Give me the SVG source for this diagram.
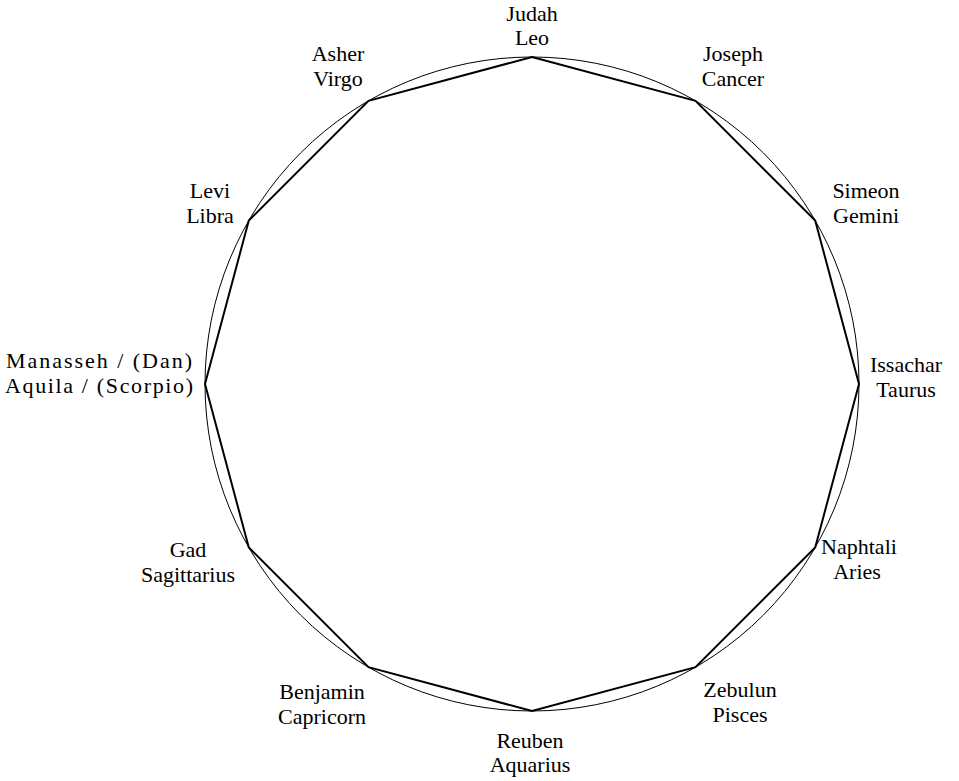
<svg xmlns="http://www.w3.org/2000/svg" width="959" height="781" viewBox="0 0 959 781">
<style>
text{font-family:"Liberation Serif",serif;font-size:22px;fill:#000;text-anchor:middle}
</style>
<rect width="959" height="781" fill="#fff"/>
<g id="connectors">
<circle cx="532" cy="384" r="327" fill="none" stroke="#000" stroke-width="1"/>
<polygon points="532,57 695.5,100.8 815.2,220.5 859,384 815.2,547.5 695.5,667.2 532,711 368.5,667.2 248.8,547.5 205,384 248.8,220.5 368.5,100.8" fill="none" stroke="#000" stroke-width="2" stroke-linejoin="miter"/>
</g>
<g id="judah"><text x="532" y="21">Judah</text><text x="532" y="45">Leo</text></g>
<g id="joseph"><text x="733" y="61">Joseph</text><text x="733" y="86">Cancer</text></g>
<g id="simeon"><text x="866" y="198">Simeon</text><text x="866" y="223">Gemini</text></g>
<g id="issachar"><text x="906" y="372">Issachar</text><text x="906" y="397">Taurus</text></g>
<g id="naphtali"><text x="859" y="554">Naphtali</text><text x="857" y="579">Aries</text></g>
<g id="zebulun"><text x="740" y="697">Zebulun</text><text x="740" y="722">Pisces</text></g>
<g id="reuben"><text x="530" y="748">Reuben</text><text x="530" y="772">Aquarius</text></g>
<g id="benjamin"><text x="322" y="699">Benjamin</text><text x="322" y="724">Capricorn</text></g>
<g id="gad"><text x="188" y="557">Gad</text><text x="188" y="582">Sagittarius</text></g>
<g id="manasseh"><text x="99" y="368" textLength="186" lengthAdjust="spacing">Manasseh / (Dan)</text><text x="99" y="393" textLength="188" lengthAdjust="spacing">Aquila / (Scorpio)</text></g>
<g id="levi"><text x="210" y="198">Levi</text><text x="210" y="223">Libra</text></g>
<g id="asher"><text x="338" y="61">Asher</text><text x="338" y="86">Virgo</text></g>
</svg>
